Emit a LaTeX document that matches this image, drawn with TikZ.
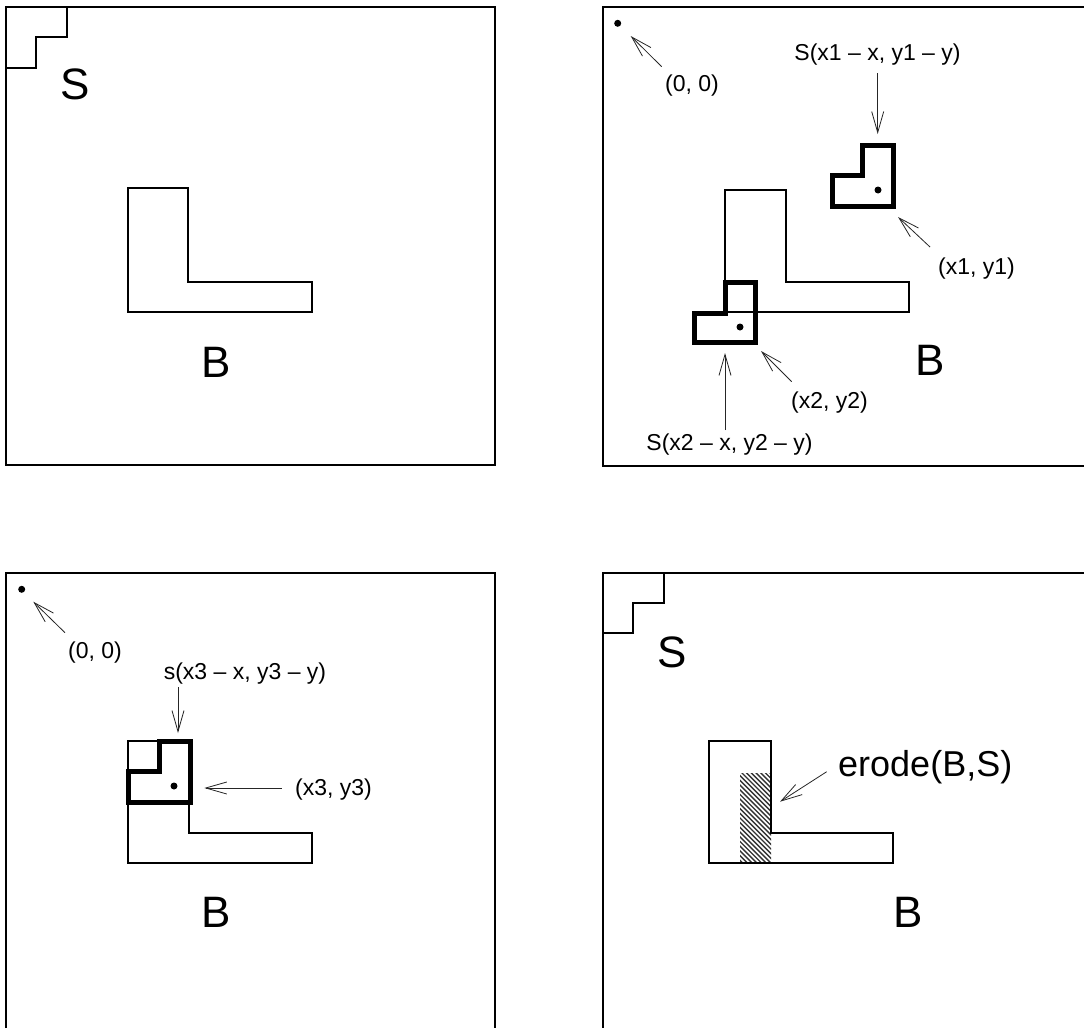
\documentclass[tikz,border=0pt]{standalone}
\usepackage{fontspec}
\setmainfont{Liberation Sans}
\usetikzlibrary{arrows.meta}
\begin{document}
\begin{tikzpicture}[x=1pt,y=-1pt,
  frame/.style={line width=2pt},
  region/.style={line width=1.6pt},
  probe/.style={line width=5pt, line join=miter},
  stair/.style={line width=1.5pt},
  pin/.style={draw=none, fill=black, circle, inner sep=0pt, minimum size=7pt},
  arr/.style={line width=0.8pt, black!85, -{Straight Barb[length=21pt,width=12pt,line width=0.8pt]}},
  big/.style={inner sep=0pt, font=\fontsize{44}{48}\selectfont},
  mid/.style={inner sep=0pt, font=\fontsize{36}{40}\selectfont},
  small/.style={inner sep=0pt, font=\fontsize{23}{26}\selectfont},
  hatch/.style={line width=1.4pt, black!80}]

\useasboundingbox (0,0) rectangle (1084,1028);
\fill[white] (0,0) rectangle (1084,1028);

% ---------- panel 1: B and S ----------
\draw[frame] (6,7) rectangle (495,465);
\draw[stair] (6,68) -- (36,68) -- (36,37) -- (67,37) -- (67,7);
\node[big] (s1) at (75.5,84) {S};
\draw[region] (128,188) -- (188,188) -- (188,282) -- (312,282) -- (312,312) -- (128,312) -- cycle;
\node[big] (b1) at (216,362) {B};

% ---------- panel 2: translated copies of S ----------
\draw[frame] (1084,7) -- (603,7) -- (603,466) -- (1084,466);
\draw[region] (725,190) -- (786,190) -- (786,282) -- (909,282) -- (909,312) -- (725,312) -- cycle;
\node[big] (b2) at (930,360) {B};

\node[pin] (o2) at (617.7,23.3) {};
\node[small] (o2l) at (692,86) {(0, 0)};
\coordinate (o2s) at (661.7,66.7);
\coordinate (o2t) at (630.7,36);
\draw[arr] (o2s) -- (o2t);

\draw[probe] (832,175) -- (862,175) -- (862,145) -- (893,145) -- (893,206) -- (832,206) -- cycle;
\node[pin] (p1) at (878,190) {};
\node[small] (s1l) at (877.5,55) {S(x1 – x, y1 – y)};
\coordinate (s1s) at (877.7,73);
\coordinate (s1t) at (877.7,134);
\draw[arr] (s1s) -- (s1t);
\node[small, anchor=west] (p1l) at (938,268.5) {(x1, y1)};
\coordinate (p1s) at (930,247);
\coordinate (p1t) at (898,217);
\draw[arr] (p1s) -- (p1t);

\draw[probe] (694,313) -- (725,313) -- (725,282) -- (755,282) -- (755,342) -- (694,342) -- cycle;
\node[pin] (p2) at (740,327) {};
\node[small] (s2l) at (729.5,445) {S(x2 – x, y2 – y)};
\coordinate (s2s) at (725,430);
\coordinate (s2t) at (725,353);
\draw[arr] (s2s) -- (s2t);
\node[small, anchor=west] (p2l) at (791,402.5) {(x2, y2)};
\coordinate (p2s) at (791.7,381.7);
\coordinate (p2t) at (761,351);
\draw[arr] (p2s) -- (p2t);

% ---------- panel 3: S fitting inside B ----------
\draw[frame] (6,1028) -- (6,573) -- (495,573) -- (495,1028);
\draw[region] (128,741) -- (189,741) -- (189,833) -- (312,833) -- (312,863) -- (128,863) -- cycle;
\node[big] (b3) at (216,912) {B};

\node[pin] (o3) at (21.7,589.3) {};
\node[small] (o3l) at (95,652.5) {(0, 0)};
\coordinate (o3s) at (65,632.7);
\coordinate (o3t) at (33.3,601.7);
\draw[arr] (o3s) -- (o3t);

\draw[probe] (128,771) -- (159,771) -- (159,741) -- (190,741) -- (190,802) -- (128,802) -- cycle;
\node[pin] (p3) at (174,786) {};
\node[small] (s3l) at (245,674) {s(x3 – x, y3 – y)};
\coordinate (s3s) at (178,687);
\coordinate (s3t) at (178,733);
\draw[arr] (s3s) -- (s3t);
\node[small, anchor=west] (p3l) at (295,789.5) {(x3, y3)};
\coordinate (p3s) at (281.7,788);
\coordinate (p3t) at (204.3,788);
\draw[arr] (p3s) -- (p3t);

% ---------- panel 4: erosion result ----------
\draw[frame] (1084,573) -- (603,573) -- (603,1028);
\draw[stair] (603,633) -- (633,633) -- (633,603) -- (664,603) -- (664,573);
\node[big] (s4) at (672.5,652) {S};

\begin{scope}
  \clip (740,773) rectangle (771,863);
  \foreach \i in {-95,-90.3,...,40}
    \draw[hatch] (740+\i,770) -- ++(100,100);
\end{scope}
\draw[region] (709,741) -- (771,741) -- (771,833) -- (893,833) -- (893,863) -- (709,863) -- cycle;
\node[big] (b4) at (908,912) {B};

\node[mid, anchor=west] (el) at (838,767.5) {erode(B,S)};
\coordinate (es) at (826.7,771.7);
\coordinate (et) at (780,801.7);
\draw[arr] (es) -- (et);
\end{tikzpicture}
\end{document}
